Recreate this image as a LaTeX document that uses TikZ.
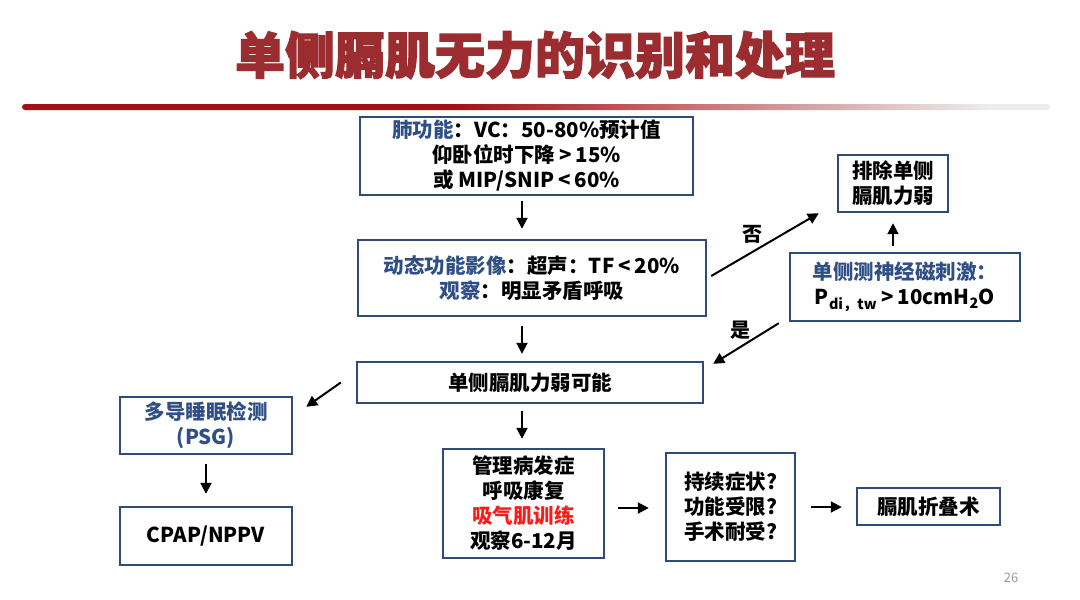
\documentclass[tikz,border=0pt]{standalone}
\usepackage{fontspec}
\setmainfont{Noto Sans CJK SC}
\newfontfamily\titlefont{Noto Sans CJK SC}[BoldFeatures={FakeBold=2.5}]
\usetikzlibrary{arrows.meta}
\definecolor{bordc}{HTML}{2E4B7C}
\definecolor{bluet}{HTML}{2F4F86}
\definecolor{titlec}{HTML}{9B2D30}
\definecolor{linered}{HTML}{A50F15}
\definecolor{linegray}{HTML}{EDEDED}
\definecolor{pgnum}{HTML}{9A9A9A}
\definecolor{redt}{HTML}{FF1A1A}
\pgfdeclarehorizontalshading{redfade}{100bp}{color(0bp)=(linered); color(46bp)=(linered); color(72bp)=(linegray); color(100bp)=(linegray)}
\newcommand{\gtm}{\hspace{4pt}>\hspace{4pt}}
\newcommand{\ltm}{\hspace{4pt}<\hspace{4pt}}
\begin{document}
\begin{tikzpicture}[x=1pt,y=-1pt,
 box/.style={draw=bordc,line width=2.4pt,align=center,inner sep=0pt,font=\fontsize{20.5}{25}\selectfont\bfseries},
 arr/.style={draw=black,line width=2pt,-{Triangle[length=11pt,width=11pt]}},
 lbl/.style={font=\fontsize{20}{22}\selectfont\bfseries}]
\useasboundingbox (0,0) rectangle (1080,600);
\fill[white] (0,0) rectangle (1080,600);
% title
\node[font=\fontsize{50}{52}\selectfont\titlefont\bfseries, text=titlec] (title) at (535,55) {单侧膈肌无力的识别和处理};
% red line
\shade[shading=redfade, rounded corners=3pt] (22,104) rectangle (1050,110);
% boxes
\node[box,minimum width=333pt,minimum height=78pt] (b1) at (526.5,156) {\textcolor{bluet}{肺功能}：VC：50-80\%预计值\\仰卧位时下降\gtm15\%\\或 MIP/SNIP\ltm60\%};
\node[box,minimum width=348pt,minimum height=76pt] (b2) at (532,278) {\textcolor{bluet}{动态功能影像}：超声：TF\ltm20\%\\\textcolor{bluet}{观察}：明显矛盾呼吸};
\node[box,minimum width=110pt,minimum height=57pt] (b3) at (893,183.5) {排除单侧\\膈肌力弱};
\node[box,minimum width=230pt,minimum height=68pt] (b4) at (905,287) {\textcolor{bluet}{单侧测神经磁刺激：}\\P\textsubscript{di，tw}\gtm10cmH\textsubscript{2}O};
\node[box,minimum width=346pt,minimum height=41pt] (b5) at (530,382.5) {单侧膈肌力弱可能};
\node[box,text=bluet,minimum width=172pt,minimum height=57pt] (b6) at (206,425.5) {多导睡眠检测\\(PSG)};
\node[box,minimum width=172pt,minimum height=58pt] (b7) at (206,536) {CPAP/NPPV};
\node[box,minimum width=161pt,minimum height=109pt] (b8) at (523.5,503.5) {管理病发症\\呼吸康复\\\textcolor{redt}{吸气肌训练}\\观察6-12月};
\node[box,minimum width=129pt,minimum height=108pt] (b9) at (730.5,507) {持续症状?\\功能受限?\\手术耐受?};
\node[box,minimum width=143pt,minimum height=37pt] (b10) at (928.5,506.5) {膈肌折叠术};
% arrows
\draw[arr,shorten <=5pt,shorten >=10pt] ([shift={(-4.5,0)}]b1.south) -- ([shift={(-10,0)}]b2.north);
\draw[arr,shorten <=9pt,shorten >=7pt] ([shift={(-10,0)}]b2.south) -- ([shift={(-8,0)}]b5.north);
\draw[arr] ([shift={(4,-2)}]b2.east) -- ([shift={(-18,0)}]b3.south west);
\draw[arr] ([shift={(-10,1)}]b4.south west) -- ([shift={(9,3)}]b5.north east);
\draw[arr,shorten <=6pt,shorten >=10pt] ([shift={(-12,0)}]b4.north) -- (b3.south);
\draw[arr] ([shift={(-15,0)}]b5.west) -- ([shift={(13,11)}]b6.north east);
\draw[arr,shorten <=9pt,shorten >=12pt] (b6.south) -- (b7.north);
\draw[arr,shorten <=7pt,shorten >=9pt] ([shift={(-8,0)}]b5.south) -- ([shift={(-1.5,0)}]b8.north);
\draw[arr,shorten <=13pt,shorten >=16pt] ([shift={(0,4.5)}]b8.east) -- ([shift={(0,1)}]b9.west);
\draw[arr,shorten <=15pt,shorten >=14pt] (b9.east) -- ([shift={(0,0.5)}]b10.west);
% labels
\node[lbl] (no) at (752,234) {否};
\node[lbl] (yes) at (740,330) {是};
\node[font=\fontsize{13}{13}\selectfont, text=pgnum] (pg) at (1011,578) {26};
\end{tikzpicture}
\end{document}
